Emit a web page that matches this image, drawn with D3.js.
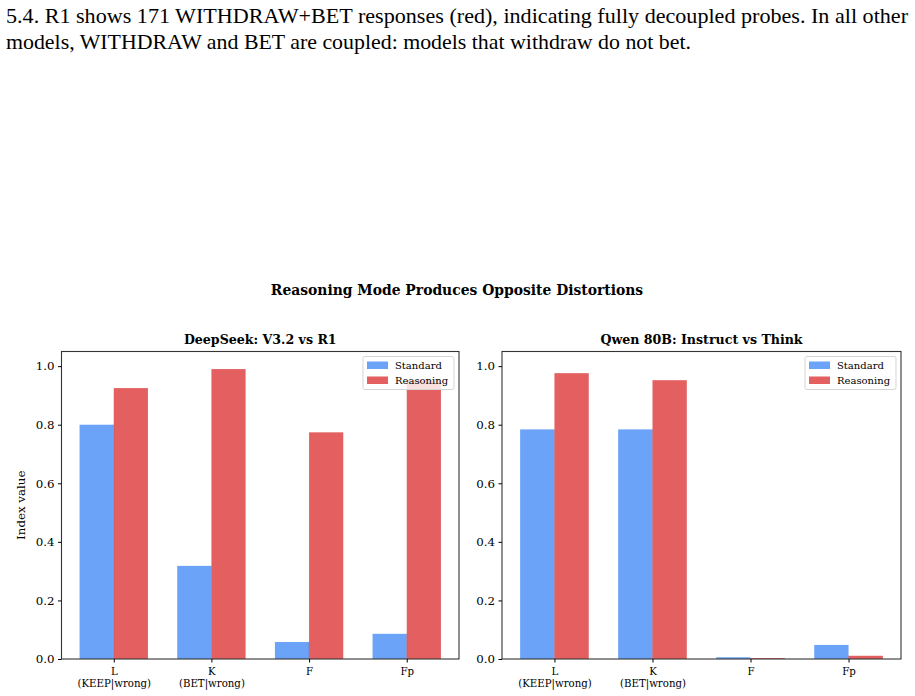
<!DOCTYPE html>
<html>
<head>
<meta charset="utf-8">
<script src="https://cdn.jsdelivr.net/npm/d3@7"></script>
<style>
  body { margin: 0; background: #fff; }
  svg { display: block; }
</style>
</head>
<body>
<div id="chart"></div>
<script>
// data
var categories = ["L", "K", "F", "Fp"];
var subLabels = ["(KEEP|wrong)", "(BET|wrong)", "", ""];
var seriesNames = ["Standard", "Reasoning"];
var panelTitles = ["DeepSeek: V3.2 vs R1", "Qwen 80B: Instruct vs Think"];
var deepseekStandard = [0.80, 0.318, 0.058, 0.086];
var deepseekReasoning = [0.925, 0.990, 0.774, 0.952];
var qwenStandard = [0.784, 0.784, 0.006, 0.048];
var qwenReasoning = [0.976, 0.952, 0.003, 0.011];
var yTicks = [0, 0.2, 0.4, 0.6, 0.8, 1.0];

var colors = ["#6ba3f8", "#e35f60"];
var W = 915, H = 696;

var svg = d3.select("#chart").append("svg")
  .attr("width", W)
  .attr("height", H);

var times = "'Liberation Serif', 'Times New Roman', serif";
var serif = "'DejaVu Serif', serif";

// paragraph text above the figure
svg.append("text")
  .attr("x", 6).attr("y", 23)
  .attr("textLength", 902)
  .attr("lengthAdjust", "spacingAndGlyphs")
  .style("font-family", times)
  .style("font-size", "22px")
  .text("5.4. R1 shows 171 WITHDRAW+BET responses (red), indicating fully decoupled probes.  In all other");
svg.append("text")
  .attr("x", 6).attr("y", 49)
  .attr("textLength", 685)
  .attr("lengthAdjust", "spacingAndGlyphs")
  .style("font-family", times)
  .style("font-size", "22px")
  .text("models, WITHDRAW and BET are coupled: models that withdraw do not bet.");

// figure title
svg.append("text")
  .attr("x", 457).attr("y", 295)
  .attr("text-anchor", "middle")
  .style("font-family", serif)
  .style("font-weight", "bold")
  .style("font-size", "13.9px")
  .text("Reasoning Mode Produces Opposite Distortions");

var axTop = 351.5, axBottom = 659;

function drawPanel(left, right, title, std, rea, showYLabel) {
  var g = svg.append("g");

  var x = d3.scaleLinear().domain([-0.535, 3.535]).range([left, right]);
  var y = d3.scaleLinear().domain([0, 1.05]).range([axBottom, axTop]);
  var bw = x(0.35) - x(0);

  var series = [std, rea];
  series.forEach(function(vals, s) {
    g.append("g").selectAll("rect")
      .data(vals)
      .enter().append("rect")
      .attr("x", function(d, i) { return x(i) + (s === 0 ? -bw : 0); })
      .attr("y", function(d) { return y(d); })
      .attr("width", bw)
      .attr("height", function(d) { return y(0) - y(d); })
      .attr("fill", colors[s]);
  });
  // faint seam where the two bars of a group meet
  g.append("g").selectAll("line")
    .data(std)
    .enter().append("line")
    .attr("x1", function(d, i) { return x(i); })
    .attr("x2", function(d, i) { return x(i); })
    .attr("y1", function(d, i) { return y(Math.min(d, rea[i])); })
    .attr("y2", y(0))
    .attr("stroke", "#9a5a7a").attr("stroke-width", 0.6).attr("opacity", 0.6);

  // frame
  g.append("rect")
    .attr("x", left).attr("y", axTop)
    .attr("width", right - left).attr("height", axBottom - axTop)
    .attr("fill", "none")
    .attr("stroke", "#333")
    .attr("stroke-width", 1.1);

  // y axis
  var yAxis = d3.axisLeft(y).tickValues(yTicks).tickFormat(d3.format(".1f")).tickSize(3.5).tickPadding(3.5);
  var ya = g.append("g").attr("transform", "translate(" + left + ",0)").call(yAxis);
  ya.select(".domain").remove();
  ya.selectAll("line").attr("stroke", "#000");
  ya.selectAll("text").style("font-family", serif).style("font-size", "11.8px").attr("fill", "#000");

  // x axis
  var xAxis = d3.axisBottom(x).tickValues([0, 1, 2, 3]).tickFormat(function(d) { return categories[d]; }).tickSize(3.5).tickPadding(5.5);
  var xa = g.append("g").attr("transform", "translate(0," + axBottom + ")").call(xAxis);
  xa.select(".domain").remove();
  xa.selectAll("line").attr("stroke", "#000");
  xa.selectAll("text").style("font-family", serif).style("font-size", "10.2px").attr("fill", "#000");
  xa.selectAll(".tick").append("text")
    .attr("y", 21).attr("dy", "0.71em").attr("fill", "#000")
    .style("font-family", serif).style("font-size", "10.2px")
    .style("text-anchor", "middle")
    .text(function(d) { return subLabels[d]; });

  // panel title
  g.append("text")
    .attr("x", (left + right) / 2).attr("y", 344)
    .attr("text-anchor", "middle")
    .style("font-family", serif).style("font-weight", "bold").style("font-size", "12.6px")
    .text(title);

  if (showYLabel) {
    g.append("text")
      .attr("transform", "translate(25," + ((axTop + axBottom) / 2) + ") rotate(-90)")
      .attr("text-anchor", "middle")
      .style("font-family", serif).style("font-size", "11.8px")
      .text("Index value");
  }

  // legend
  var lx = right - 96, ly = axTop + 5;
  var leg = g.append("g");
  leg.append("rect")
    .attr("x", lx).attr("y", ly).attr("width", 91).attr("height", 33)
    .attr("rx", 2).attr("fill", "#fff").attr("fill-opacity", 0.8)
    .attr("stroke", "#d5d5d5");
  seriesNames.forEach(function(name, i) {
    leg.append("rect")
      .attr("x", lx + 4).attr("y", ly + 5 + i * 15)
      .attr("width", 21).attr("height", 7.5)
      .attr("fill", colors[i]);
    leg.append("text")
      .attr("x", lx + 32).attr("y", ly + 12.5 + i * 15)
      .style("font-family", serif).style("font-size", "10px")
      .text(name);
  });
}

drawPanel(61.5, 459, panelTitles[0], deepseekStandard, deepseekReasoning, true);
drawPanel(502, 901, panelTitles[1], qwenStandard, qwenReasoning, false);
</script>
</body>
</html>
